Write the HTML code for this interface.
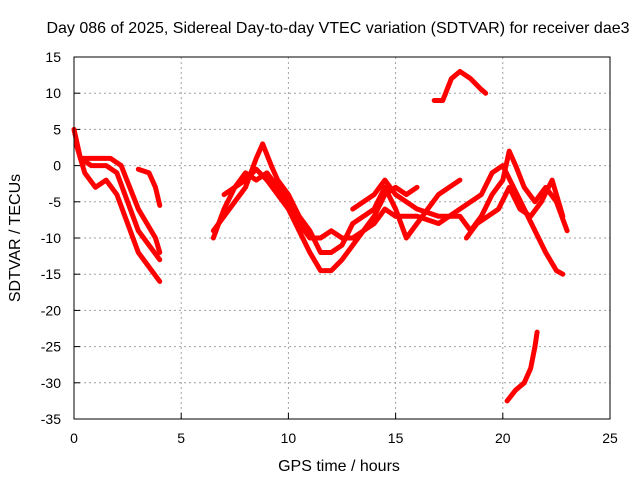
<!DOCTYPE html>
<html><head><meta charset="utf-8"><style>
body{margin:0;background:#fff}
svg{display:block;font-family:"Liberation Sans",sans-serif;font-size:14px}
</style></head><body>
<svg id="chart" width="640" height="480">
<text x="338" y="33" text-anchor="middle" font-size="16">Day 086 of 2025, Sidereal Day-to-day VTEC variation (SDTVAR) for receiver dae3</text>
<text x="339" y="471" text-anchor="middle" font-size="16">GPS time / hours</text>
<text transform="translate(20,238) rotate(-90)" text-anchor="middle" font-size="16">SDTVAR / TECUs</text>
<g id="grid"></g><g id="ticks"></g><g id="series"></g>
<rect x="74" y="57" width="536" height="362" fill="none" stroke="#000" stroke-width="1"/>
</svg>
<script>
const xTicks=[0,5,10,15,20,25];
const yTicks=[15,10,5,0,-5,-10,-15,-20,-25,-30,-35];
const s1=[[0,5],[0.3,1],[0.8,0],[1.5,0],[2,-1],[2.5,-5],[3,-9],[3.5,-11],[4,-13]];
const s2=[[0.1,3],[0.5,-1],[1,-3],[1.5,-2],[2,-4],[2.5,-8],[3,-12],[3.5,-14],[4,-16]];
const s3=[[0.3,1],[1,1],[1.7,1],[2.2,0],[2.6,-3],[3,-6],[3.4,-8],[3.8,-10],[4,-12]];
const s4=[[3,-0.5],[3.5,-1],[3.8,-3],[4,-5.5]];
const s5=[[6.5,-10],[7,-6],[7.5,-3],[8,-2],[8.5,-0.5],[9,-2],[9.5,-4],[10,-6],[10.5,-9],[11,-12],[11.5,-14.5],[12,-14.5],[12.5,-13],[13,-11],[13.5,-9],[14,-7],[14.5,-4],[15,-3],[15.5,-4],[16,-3]];
const s6=[[6.5,-9],[7,-7],[7.5,-5],[8,-3],[8.5,1],[8.8,3],[9.2,0],[9.5,-2],[10,-4],[10.5,-7],[11,-9],[11.5,-12],[12,-12],[12.5,-11],[13,-8],[13.5,-7],[14,-6],[14.5,-3],[15,-6],[15.5,-10],[16,-8],[16.5,-6],[17,-4],[17.5,-3],[18,-2]];
const s7=[[7,-4],[7.5,-3],[8,-1],[8.5,-2],[9,-1],[9.5,-3],[10,-5],[10.5,-8],[11,-10],[11.5,-10],[12,-9],[12.5,-10],[13,-10],[13.5,-9],[14,-8],[14.5,-6],[15,-7],[15.5,-7],[16,-7],[16.5,-7.5],[17,-8],[17.5,-7],[18,-6],[18.5,-5],[19,-4],[19.5,-1],[20,0],[20.5,-3],[21,-6],[21.5,-9],[22,-12],[22.5,-14.5],[22.8,-15]];
const s8=[[13,-6],[14,-4],[14.5,-2],[15,-4],[16,-6],[17,-7],[18,-7],[18.5,-9],[19,-7],[19.5,-4],[20,-2],[20.3,2],[20.6,0],[21,-3],[21.5,-5],[22,-3],[22.5,-5],[23,-9]];
const s9=[[18.3,-10],[18.8,-8],[19.3,-7],[19.8,-6],[20.3,-3],[20.8,-6],[21.3,-7],[21.8,-5],[22.3,-2],[22.8,-7]];
const s10=[[16.8,9],[17.2,9],[17.6,12],[18,13],[18.5,12],[19,10.5],[19.2,10]];
const s11=[[20.2,-32.5],[20.6,-31],[21,-30],[21.3,-28],[21.5,-25],[21.6,-23]];
const allSeries=[s1,s2,s3,s4,s5,s6,s7,s8,s9,s10,s11];
const X=h=>74+h*536/25, Y=v=>57+(15-v)*362/50;
const NS='http://www.w3.org/2000/svg';
const g=document.getElementById('grid'),t=document.getElementById('ticks'),sg=document.getElementById('series');
function mk(tag,at,p){const e=document.createElementNS(NS,tag);for(const k in at)e.setAttribute(k,at[k]);p.appendChild(e);return e;}
xTicks.forEach(v=>{
 if(v>0&&v<25){const l=mk('line',{x1:X(v),x2:X(v),y1:57,y2:419,stroke:'#a0a0a0','stroke-dasharray':'2,3'},g);
 
 }
 const k=mk('line',{x1:X(v),x2:X(v),y1:419,y2:413,stroke:'#000'},t);
 
 
 const tx=mk('text',{x:X(v),y:443,'text-anchor':'middle'},t);tx.textContent=v;
 
 
});
yTicks.forEach(v=>{
 if(v<15&&v>-35){const l=mk('line',{x1:74,x2:610,y1:Y(v),y2:Y(v),stroke:'#a0a0a0','stroke-dasharray':'2,3'},g);
 
 }
 const k=mk('line',{x1:74,x2:80,y1:Y(v),y2:Y(v),stroke:'#000'},t);
 
 
 const tx=mk('text',{x:61,y:Y(v)+5,'text-anchor':'end'},t);tx.textContent=v;
 
 
});
allSeries.forEach((s,i)=>{
 const p=mk('polyline',{points:s.map(d=>X(d[0])+','+Y(d[1])).join(' '),fill:'none',stroke:'#ff0000','stroke-width':5,'stroke-linejoin':'round','stroke-linecap':'round'},sg);
 
 
});
</script>
</body></html>
